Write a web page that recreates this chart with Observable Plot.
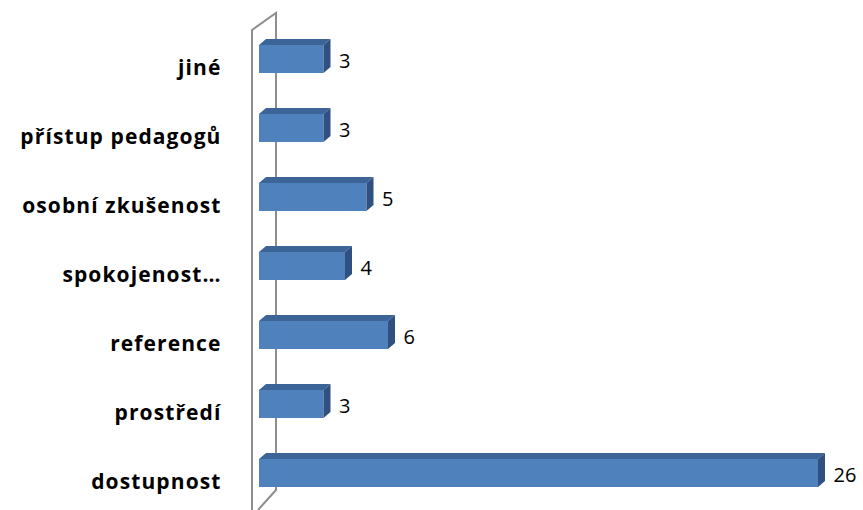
<!DOCTYPE html>
<html>
<head>
<meta charset="utf-8">
<script src="https://cdn.jsdelivr.net/npm/d3@7"></script>
<script src="https://cdn.jsdelivr.net/npm/@observablehq/plot@0.6"></script>
<style>
  html, body { margin: 0; padding: 0; background: #fff; }
  #chart svg { display: block; }
</style>
</head>
<body>
<div id="chart"></div>
<script>
const categories = ["jiné", "přístup pedagogů", "osobní zkušenost", "spokojenost…", "reference", "prostředí", "dostupnost"];
const values = [3, 3, 5, 4, 6, 3, 26];

const data = categories.map((c, i) => ({category: c, value: values[i]}));

const W = 863, H = 510;
const depthX = 7, depthY = 6;

const chart = Plot.plot({
  width: W,
  height: H,
  marginLeft: 259,
  marginRight: 45,
  marginTop: 23,
  marginBottom: 1,
  style: {background: "#fff", fontFamily: "'Open Sans', sans-serif"},
  x: {domain: [0, 26], axis: null},
  y: {domain: categories, paddingInner: 0.6, paddingOuter: 0.3, label: null},
  marks: [
    Plot.axisY({tickSize: 0, tickPadding: 38, dy: 9, fontSize: 21, fontWeight: "bold", fill: "#000", label: null}),
    Plot.barX(data, {x: "value", y: "category", fill: "#4f81bd"}),
    Plot.text(data, {x: "value", y: "category", text: d => String(d.value), textAnchor: "start", dx: 15, dy: 2, fontSize: 20, fill: "#000"})
  ]
});

document.getElementById("chart").appendChild(chart);

// 3D faces and wall drawn with the plot's own scales
const xs = chart.scale("x");
const ys = chart.scale("y");
const bw = ys.bandwidth;
const svg = d3.select(chart);
const x0 = xs.apply(0);

svg.selectAll('g[aria-label="y-axis tick label"] text').style("letter-spacing", "1.1px");

// wall
const wall = svg.insert("g", ":first-child").attr("fill", "none").attr("stroke", "#8e8e8e").attr("stroke-width", 2);
const frontX = x0 - 7, backX = x0 + 17;
wall.append("path").attr("d", `M${frontX},${H} L${frontX},30 L${backX},13 L${backX},490 L${frontX + 6},${H}`);

const faces = svg.append("g");
data.forEach(d => {
  const xl = x0, xr = xs.apply(d.value);
  const yt = ys.apply(d.category), yb = yt + bw;
  // top face
  faces.append("path")
    .attr("d", `M${xl},${yt} L${xl + depthX},${yt - depthY} L${xr + depthX},${yt - depthY} L${xr},${yt} Z`)
    .attr("fill", "#3c6496");
  // right face
  faces.append("path")
    .attr("d", `M${xr},${yt} L${xr + depthX},${yt - depthY} L${xr + depthX},${yb - depthY} L${xr},${yb} Z`)
    .attr("fill", "#2f5080");
});
</script>
</body>
</html>
